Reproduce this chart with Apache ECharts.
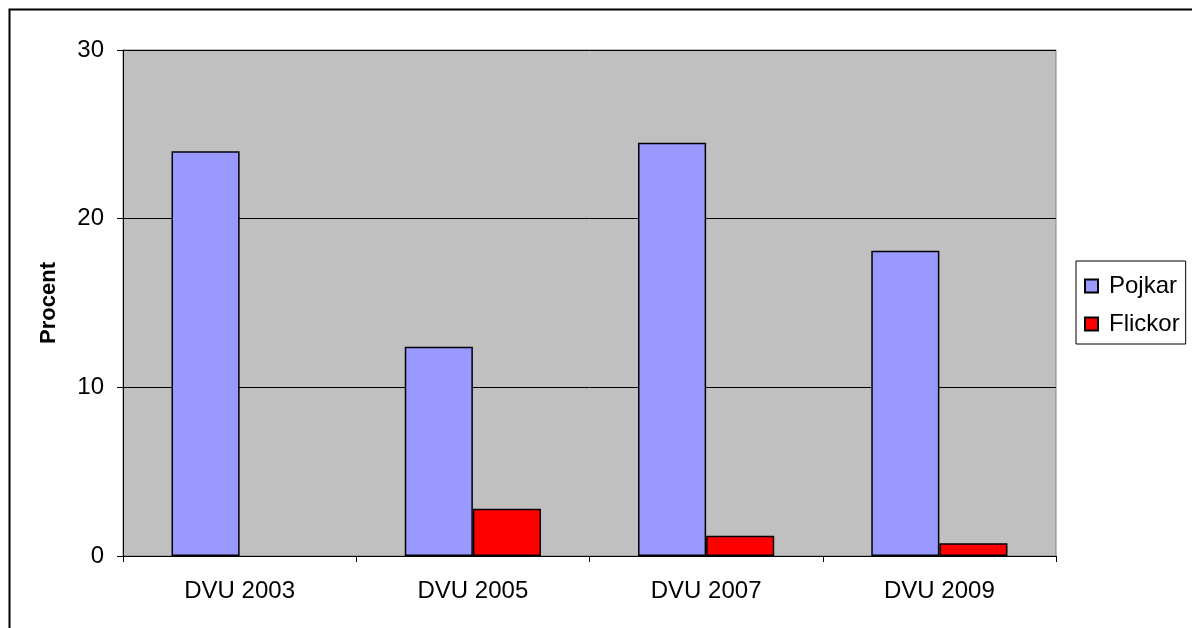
<!DOCTYPE html>
<html>
<head>
<meta charset="utf-8">
<script src="https://cdn.jsdelivr.net/npm/echarts@6/dist/echarts.min.js"></script>
<style>
html,body{margin:0;padding:0;background:#fff;}
#chart{width:1192px;height:628px;}
</style>
</head>
<body>
<div id="chart"></div>
<script>
const categories = ['DVU 2003', 'DVU 2005', 'DVU 2007', 'DVU 2009'];
const pojkar = [24.0, 12.4, 24.5, 18.1];
const flickor = [null, 2.8, 1.2, 0.75];
const yTicks = [0, 10, 20, 30];

const FONT = '"Liberation Sans", Arial, sans-serif';
const chart = echarts.init(document.getElementById('chart'), null, {renderer: 'canvas'});
chart.setOption({
  animation: false,
  backgroundColor: '#ffffff',
  graphic: [{
    type: 'rect', left: 7, top: 7, z: -10, silent: true,
    shape: {width: 1300, height: 800},
    style: {fill: 'none', stroke: '#000', lineWidth: 2}
  }],
  grid: {
    left: 123, right: 136, top: 50, bottom: 72,
    show: true, backgroundColor: '#c0c0c0', borderColor: '#808080', borderWidth: 1
  },
  legend: {
    orient: 'vertical',
    left: 1076, top: 261,
    padding: [13, 6, 8, 8],
    itemGap: 14,
    itemWidth: 13, itemHeight: 13,
    icon: 'rect',
    borderColor: '#000', borderWidth: 1,
    backgroundColor: '#fff',
    textStyle: {fontFamily: FONT, fontSize: 24, color: '#000', lineHeight: 23, padding: [0, 0, 0, 6]},
    data: ['Pojkar', 'Flickor']
  },
  xAxis: {
    type: 'category',
    data: categories,
    axisLine: {show: true, lineStyle: {color: '#000', width: 1}},
    axisTick: {show: true, length: 6, inside: false, lineStyle: {color: '#000'}},
    axisLabel: {fontFamily: FONT, fontSize: 24, color: '#000', margin: 23},
    splitLine: {show: false}
  },
  yAxis: {
    type: 'value',
    min: 0, max: 30, interval: 10,
    name: 'Procent',
    nameLocation: 'middle',
    nameGap: 63,
    nameRotate: 90,
    nameTextStyle: {fontFamily: FONT, fontSize: 22, fontWeight: 'bold', color: '#000'},
    axisLine: {show: true, lineStyle: {color: '#000', width: 1}},
    axisTick: {show: true, length: 6, lineStyle: {color: '#000'}},
    axisLabel: {
      fontFamily: FONT, fontSize: 24, color: '#000', margin: 19,
      formatter: v => yTicks.includes(v) ? String(v) : ''
    },
    splitLine: {show: true, lineStyle: {color: '#000', width: 1}}
  },
  series: [
    {
      name: 'Pojkar', type: 'bar', data: pojkar,
      barGap: '0%', barCategoryGap: '41.6%',
      itemStyle: {color: '#9999ff', borderColor: '#000', borderWidth: 1.5}
    },
    {
      name: 'Flickor', type: 'bar', data: flickor,
      itemStyle: {color: '#ff0000', borderColor: '#000', borderWidth: 1.5}
    }
  ]
});
</script>
</body>
</html>
